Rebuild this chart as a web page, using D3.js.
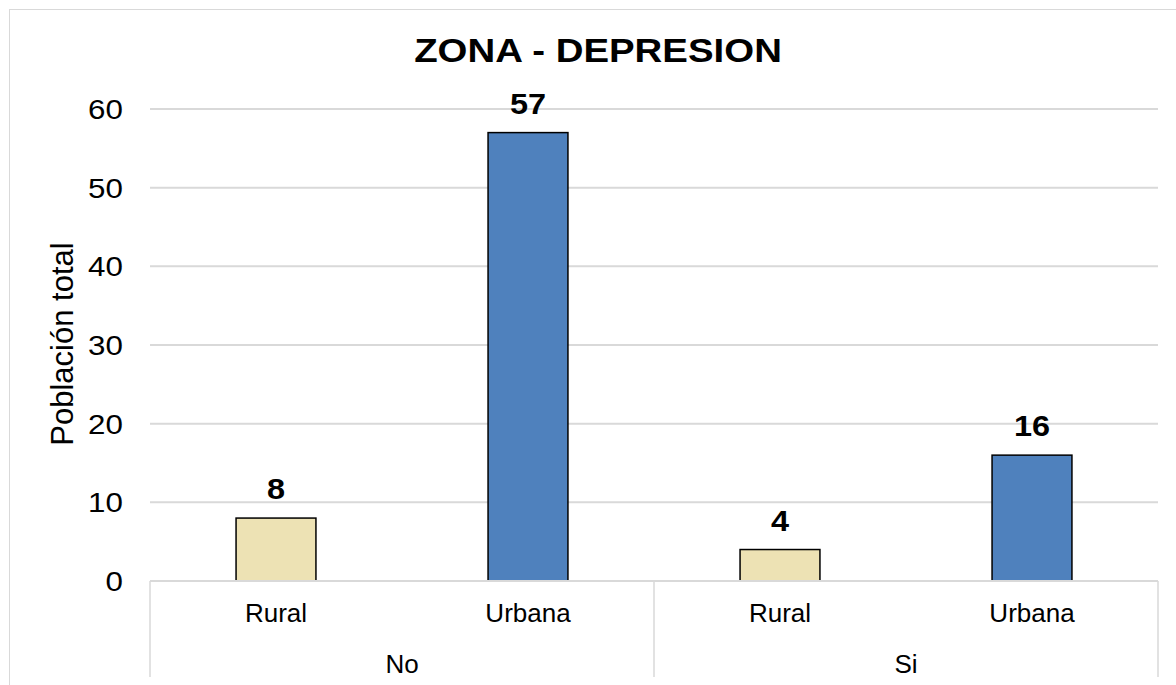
<!DOCTYPE html>
<html>
<head>
<meta charset="utf-8">
<script src="https://cdn.jsdelivr.net/npm/d3@7"></script>
<style>
	body { margin: 0; background: #fff; }
	svg { display: block; font-family: "Liberation Sans", Arial, sans-serif; }
</style>
</head>
<body>
<div id="chart"></div>
<script>
"use strict";
// chart data
const groups = ["No", "Si"];
const zones = ["Rural", "Urbana"];
const values = [8, 57, 4, 16];
const barColors = ["#EDE2B4", "#4F81BD"];
const yTicks = [0, 10, 20, 30, 40, 50, 60];

const WIDTH = 1176, HEIGHT = 685;
const plot = { left: 150, right: 1158, top: 109, bottom: 581 };

let svg = d3.select("#chart").append("svg")
	.attr("width", WIDTH)
	.attr("height", HEIGHT);

// helper: place a text with a small horizontal stretch (the source glyphs are wider)
function place(x, y, sx) {
	return "translate(" + x + "," + y + ") scale(" + sx + ",1)";
}

// outer chart border (cut by the picture on the right and bottom)
svg.append("rect")
	.attr("x", 9.5).attr("y", 9.5)
	.attr("width", WIDTH + 20).attr("height", HEIGHT + 20)
	.style("fill", "none")
	.style("stroke", "#d9d9d9")
	.style("stroke-width", "1px");

let cats = [];
groups.forEach(function (g) {
	zones.forEach(function (z) { cats.push(g + "|" + z); });
});

let x = d3.scaleBand()
	.domain(cats)
	.range([plot.left, plot.right])
	.paddingInner(0.683)
	.paddingOuter(0.3415);

let y = d3.scaleLinear()
	.domain([0, 60])
	.range([plot.bottom, plot.top]);

// gridlines
svg.append("g")
	.selectAll("line")
	.data(yTicks.filter(function (d) { return d > 0; }))
	.enter()
	.append("line")
	.attr("x1", plot.left).attr("x2", plot.right)
	.attr("y1", function (d) { return y(d); })
	.attr("y2", function (d) { return y(d); })
	.style("stroke", "#d9d9d9")
	.style("stroke-width", "2px");

// y tick labels
svg.append("g")
	.selectAll("text")
	.data(yTicks)
	.enter()
	.append("text")
	.attr("transform", function (d) { return place(123, y(d), 1.12); })
	.attr("dy", "0.36em")
	.attr("text-anchor", "end")
	.style("font-size", "28px")
	.style("fill", "#000")
	.text(function (d) { return d; });

// y axis title
svg.append("text")
	.attr("transform", "translate(73," + 344 + ") rotate(-90)")
	.attr("text-anchor", "middle")
	.style("font-size", "31px")
	.style("fill", "#000")
	.text("Población total");

// chart title
svg.append("text")
	.attr("transform", place(598, 62, 1.13))
	.attr("text-anchor", "middle")
	.style("font-size", "34px")
	.style("font-weight", "bold")
	.style("fill", "#000")
	.text("ZONA - DEPRESION");

// bars
let barData = cats.map(function (c, i) { return { key: c, value: values[i], zone: i % zones.length }; });

svg.append("g")
	.selectAll("rect")
	.data(barData)
	.enter()
	.append("rect")
	.attr("x", function (d) { return x(d.key); })
	.attr("y", function (d) { return y(d.value); })
	.attr("width", x.bandwidth())
	.attr("height", function (d) { return y(0) - y(d.value); })
	.style("fill", function (d) { return barColors[d.zone]; })
	.style("stroke", "#000")
	.style("stroke-width", "1.5px");

// value labels
svg.append("g")
	.selectAll("text")
	.data(barData)
	.enter()
	.append("text")
	.attr("transform", function (d) { return place(x(d.key) + x.bandwidth() / 2, y(d.value) - 19, 1.12); })
	.attr("text-anchor", "middle")
	.style("font-size", "29px")
	.style("font-weight", "bold")
	.style("fill", "#000")
	.text(function (d) { return d.value; });

// category axis: baseline and group separators
svg.append("line")
	.attr("x1", plot.left).attr("x2", plot.right)
	.attr("y1", plot.bottom).attr("y2", plot.bottom)
	.style("stroke", "#d9d9d9")
	.style("stroke-width", "2px");

let groupWidth = (plot.right - plot.left) / groups.length;
let seps = d3.range(groups.length + 1).map(function (i) { return plot.left + i * groupWidth; });
svg.append("g")
	.selectAll("line")
	.data(seps)
	.enter()
	.append("line")
	.attr("x1", function (d) { return d; })
	.attr("x2", function (d) { return d; })
	.attr("y1", plot.bottom).attr("y2", 677)
	.style("stroke", "#d9d9d9")
	.style("stroke-width", "1.5px");

// zone labels
svg.append("g")
	.selectAll("text")
	.data(barData)
	.enter()
	.append("text")
	.attr("x", function (d) { return x(d.key) + x.bandwidth() / 2; })
	.attr("y", 622)
	.attr("text-anchor", "middle")
	.style("font-size", "26px")
	.style("fill", "#000")
	.text(function (d) { return zones[d.zone]; });

// group labels
svg.append("g")
	.selectAll("text")
	.data(groups)
	.enter()
	.append("text")
	.attr("x", function (d, i) { return plot.left + (i + 0.5) * groupWidth; })
	.attr("y", 673)
	.attr("text-anchor", "middle")
	.style("font-size", "26px")
	.style("fill", "#000")
	.text(function (d) { return d; });
</script>
</body>
</html>
